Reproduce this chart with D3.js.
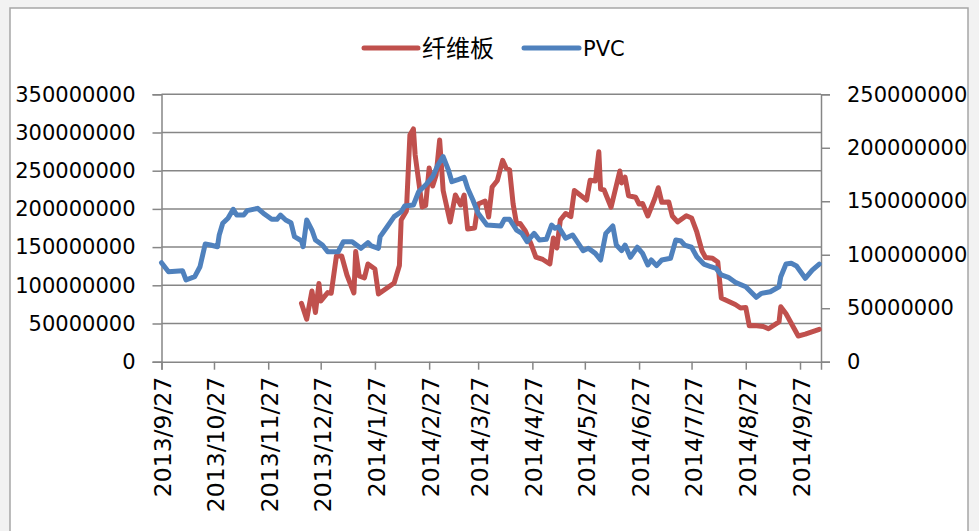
<!DOCTYPE html>
<html>
<head>
<meta charset="utf-8">
<script src="https://cdn.jsdelivr.net/npm/d3@7"></script>
<style>
  body { margin: 0; background: #f2f2f2; }
  svg { display: block; }
</style>
</head>
<body>
<div id="chart"></div>
<script>
'use strict';

// ── Data ──
var seriesNames = ['纤维板', 'PVC'];

var boardDates = ['2013-12-16','2013-12-19','2013-12-22','2013-12-24','2013-12-26','2013-12-27','2013-12-31',
  '2014-01-02','2014-01-05','2014-01-08','2014-01-11','2014-01-15','2014-01-16','2014-01-18','2014-01-21','2014-01-23',
  '2014-01-27','2014-01-29','2014-02-07','2014-02-10','2014-02-11','2014-02-14','2014-02-16','2014-02-18','2014-02-19',
  '2014-02-23','2014-02-25','2014-02-27','2014-03-01','2014-03-03','2014-03-05','2014-03-07','2014-03-11','2014-03-14',
  '2014-03-17','2014-03-19','2014-03-21','2014-03-25','2014-03-27','2014-03-31','2014-04-02','2014-04-04','2014-04-07',
  '2014-04-10','2014-04-12','2014-04-14','2014-04-16','2014-04-18','2014-04-20','2014-04-23','2014-04-26','2014-04-29',
  '2014-05-03','2014-05-07','2014-05-09','2014-05-11','2014-05-13','2014-05-16','2014-05-19','2014-05-21','2014-05-28',
  '2014-05-30','2014-06-02','2014-06-04','2014-06-05','2014-06-07','2014-06-11','2014-06-16','2014-06-17','2014-06-19',
  '2014-06-21','2014-06-25','2014-06-27','2014-06-29','2014-07-02','2014-07-06','2014-07-08','2014-07-10','2014-07-14',
  '2014-07-16','2014-07-19','2014-07-24','2014-07-27','2014-07-30','2014-08-02','2014-08-04','2014-08-08','2014-08-11',
  '2014-08-13','2014-08-17','2014-08-21','2014-08-24','2014-08-27','2014-08-29','2014-09-01','2014-09-06','2014-09-09',
  '2014-09-15','2014-09-16','2014-09-19','2014-09-26','2014-09-30','2014-10-08'];
var boardValues = [76.4e6,55.6e6,92.5e6,64.3e6,102.4e6,79.4e6,90.4e6,
  89.5e6,138.4e6,138.4e6,113.5e6,89.9e6,144.2e6,112.2e6,109.6e6,127.9e6,
  121.3e6,88.6e6,103e6,125.9e6,185.5e6,197.3e6,296.7e6,304.6e6,270.5e6,
  202.5e6,204.5e6,253.5e6,230e6,244.4e6,290.2e6,224.1e6,182.9e6,218.2e6,
  205.1e6,218.2e6,173.7e6,175e6,206.4e6,210.3e6,189.4e6,228.7e6,237.2e6,
  263.6e6,253.5e6,250.9e6,206.4e6,180.2e6,180.9e6,171.1e6,155.4e6,137e6,
  133.8e6,127.9e6,161.9e6,148.8e6,185.5e6,194e6,189.8e6,224.1e6,211.6e6,
  237.4e6,236.5e6,274.7e6,226e6,224.7e6,202.2e6,249.6e6,233.9e6,241.5e6,
  217.3e6,215.3e6,206.4e6,207.1e6,190.7e6,213.6e6,227.7e6,208.6e6,209e6,
  190.7e6,182.9e6,191.1e6,188.1e6,169.8e6,144.9e6,136.4e6,135.3e6,130.5e6,
  83.4e6,79.2e6,74.9e6,70.3e6,70.9e6,47.1e6,47.4e6,46.1e6,43.1e6,
  52e6,71.9e6,62.8e6,33.6e6,36e6,42.4e6];

var pvcDates = ['2013-09-27','2013-10-01','2013-10-09','2013-10-11','2013-10-16','2013-10-19','2013-10-22','2013-10-25',
  '2013-10-29','2013-10-30','2013-11-01','2013-11-04','2013-11-07','2013-11-09','2013-11-13','2013-11-15','2013-11-21',
  '2013-11-25','2013-11-29','2013-12-02','2013-12-04','2013-12-07','2013-12-10','2013-12-12','2013-12-16','2013-12-17',
  '2013-12-19','2013-12-22','2013-12-24','2013-12-28','2013-12-31','2014-01-06','2014-01-09','2014-01-14','2014-01-19',
  '2014-01-23','2014-01-25','2014-01-29','2014-01-30','2014-02-03','2014-02-07','2014-02-11','2014-02-13','2014-02-18',
  '2014-02-21','2014-02-25','2014-03-01','2014-03-04','2014-03-07','2014-03-10','2014-03-12','2014-03-15','2014-03-19',
  '2014-03-21','2014-03-24','2014-03-27','2014-04-01','2014-04-09','2014-04-11','2014-04-14','2014-04-18','2014-04-21',
  '2014-04-24','2014-04-28','2014-05-01','2014-05-05','2014-05-08','2014-05-10','2014-05-12','2014-05-16','2014-05-20',
  '2014-05-26','2014-05-29','2014-06-02','2014-06-05','2014-06-08','2014-06-12','2014-06-14','2014-06-17','2014-06-19',
  '2014-06-22','2014-06-26','2014-06-29','2014-07-02','2014-07-04','2014-07-07','2014-07-10','2014-07-15','2014-07-18',
  '2014-07-21','2014-07-23','2014-07-27','2014-07-30','2014-08-03','2014-08-07','2014-08-10','2014-08-13','2014-08-17',
  '2014-08-21','2014-08-27','2014-09-02','2014-09-05','2014-09-10','2014-09-15','2014-09-16','2014-09-19','2014-09-22',
  '2014-09-25','2014-09-30','2014-10-04','2014-10-08'];
var pvcValues = [92.6e6,84.1e6,85.1e6,76.4e6,79.5e6,88.8e6,110e6,109.1e6,
  107.5e6,118.5e6,129.4e6,134.1e6,142.5e6,137.1e6,137.1e6,141.2e6,143.4e6,
  137.8e6,133.1e6,133.1e6,137.1e6,132.5e6,130e6,116.9e6,113.1e6,107.5e6,
  132.5e6,123.1e6,113.8e6,109.1e6,102.8e6,102.8e6,112.2e6,112.2e6,106e6,
  111.3e6,108.2e6,106e6,116.9e6,126.2e6,135.6e6,140.2e6,145.6e6,146.5e6,
  158.9e6,165.2e6,173e6,183.9e6,191.7e6,179.2e6,168.3e6,169.9e6,172.4e6,
  162.1e6,151.2e6,138.7e6,127.8e6,126.9e6,133.1e6,133.1e6,123.1e6,120e6,
  112.2e6,120e6,113.8e6,114.4e6,127.8e6,124.7e6,126.2e6,115.4e6,118.5e6,
  103.8e6,106e6,101.3e6,95.1e6,120e6,126.9e6,109.1e6,103.8e6,109.1e6,
  97.6e6,107e6,101.3e6,90.4e6,95.1e6,89.8e6,95.1e6,96.7e6,113.8e6,
  112.8e6,109.1e6,107e6,98.2e6,91.3e6,88.8e6,87.3e6,81.1e6,78.9e6,
  74.2e6,70.1e6,60.2e6,63.9e6,65.4e6,70.1e6,79.5e6,91.3e6,92e6,
  89.5e6,78e6,85.7e6,91.3e6];

var xTickDates = ['2013-09-27','2013-10-27','2013-11-27','2013-12-27','2014-01-27','2014-02-27','2014-03-27',
  '2014-04-27','2014-05-27','2014-06-27','2014-07-27','2014-08-27','2014-09-27'];
var xDomain = ['2013-09-27', '2014-10-09'];
var leftTicks = [0, 50000000, 100000000, 150000000, 200000000, 250000000, 300000000, 350000000];
var rightTicks = [0, 50000000, 100000000, 150000000, 200000000, 250000000];

// ── Layout ──
var W = 979, H = 531;
var plot = {left: 161.5, right: 821, top: 94.3, bottom: 361.7};
var colBoard = '#c0504d', colPvc = '#4f81bd', axisCol = '#868686';
var font = '"DejaVu Sans", sans-serif';

var parse = d3.utcParse('%Y-%m-%d');
var fmt = d3.utcFormat('%Y/%-m/%-d');

var svg = d3.select('#chart').append('svg').attr('width', W).attr('height', H);

svg.append('rect').attr('width', W).attr('height', H).attr('fill', '#f2f2f2');
svg.append('rect').attr('x', 10).attr('y', 8).attr('width', 958).attr('height', 540)
  .attr('fill', '#fff').attr('stroke', '#a6a6a6').attr('stroke-width', 1.5);

var x = d3.scaleUtc().domain(xDomain.map(parse)).range([plot.left, plot.right]);
var yL = d3.scaleLinear().domain([0, 350000000]).range([plot.bottom, plot.top]);
var yR = d3.scaleLinear().domain([0, 250000000]).range([plot.bottom, plot.top]);

// gridlines
svg.append('g').selectAll('line').data(leftTicks.slice(1)).enter().append('line')
  .attr('x1', plot.left).attr('x2', plot.right)
  .attr('y1', function(d) { return yL(d); }).attr('y2', function(d) { return yL(d); })
  .attr('stroke', axisCol).attr('stroke-width', 1.5);

// left axis
var gL = svg.append('g').attr('transform', 'translate(' + plot.left + ',0)')
  .call(d3.axisLeft(yL).tickValues(leftTicks).tickSize(9).tickPadding(17).tickFormat(d3.format('d')));
// right axis
var gR = svg.append('g').attr('transform', 'translate(' + plot.right + ',0)')
  .call(d3.axisRight(yR).tickValues(rightTicks).tickSize(9).tickPadding(17).tickFormat(d3.format('d')));
// bottom axis
var gB = svg.append('g').attr('transform', 'translate(0,' + plot.bottom + ')')
  .call(d3.axisBottom(x).tickValues(xTickDates.map(parse)).tickSize(8).tickFormat(fmt));

[gL, gR, gB].forEach(function(g) {
  g.select('.domain').attr('stroke', axisCol).attr('stroke-width', 1.5);
  g.selectAll('.tick line').attr('stroke', axisCol).attr('stroke-width', 1.5);
  g.selectAll('text').attr('fill', '#000').style('font-family', font).style('font-size', '21px');
});

gB.selectAll('.tick text')
  .style('font-size', '23.5px')
  .attr('transform', 'rotate(-90)')
  .attr('text-anchor', 'end')
  .attr('x', -15).attr('y', 1).attr('dy', '0.36em');

// lines
var lineL = d3.line().x(function(d) { return x(d.date); }).y(function(d) { return yL(d.value); });
var lineR = d3.line().x(function(d) { return x(d.date); }).y(function(d) { return yR(d.value); });

var boardData = boardDates.map(function(d, i) { return {date: parse(d), value: boardValues[i]}; });
var pvcData = pvcDates.map(function(d, i) { return {date: parse(d), value: pvcValues[i]}; });

svg.append('path').datum(boardData).attr('d', lineL)
  .attr('fill', 'none').attr('stroke', colBoard).attr('stroke-width', 5)
  .attr('stroke-linejoin', 'round').attr('stroke-linecap', 'round');
svg.append('path').datum(pvcData).attr('d', lineR)
  .attr('fill', 'none').attr('stroke', colPvc).attr('stroke-width', 5)
  .attr('stroke-linejoin', 'round').attr('stroke-linecap', 'round');

// legend
var legend = svg.append('g');
var items = [
  {name: seriesNames[0], color: colBoard, x1: 364, x2: 418, tx: 422, size: 24, fam: '"Noto Sans CJK SC", sans-serif'},
  {name: seriesNames[1], color: colPvc, x1: 524, x2: 579, tx: 583, size: 21, fam: font}
];
items.forEach(function(it) {
  legend.append('line').attr('x1', it.x1).attr('x2', it.x2).attr('y1', 48).attr('y2', 48)
    .attr('stroke', it.color).attr('stroke-width', 5).attr('stroke-linecap', 'round');
  legend.append('text').attr('x', it.tx).attr('y', 48).attr('dy', '0.36em')
    .style('font-family', it.fam).style('font-size', it.size + 'px').attr('fill', '#000')
    .text(it.name);
});
</script>
</body>
</html>
